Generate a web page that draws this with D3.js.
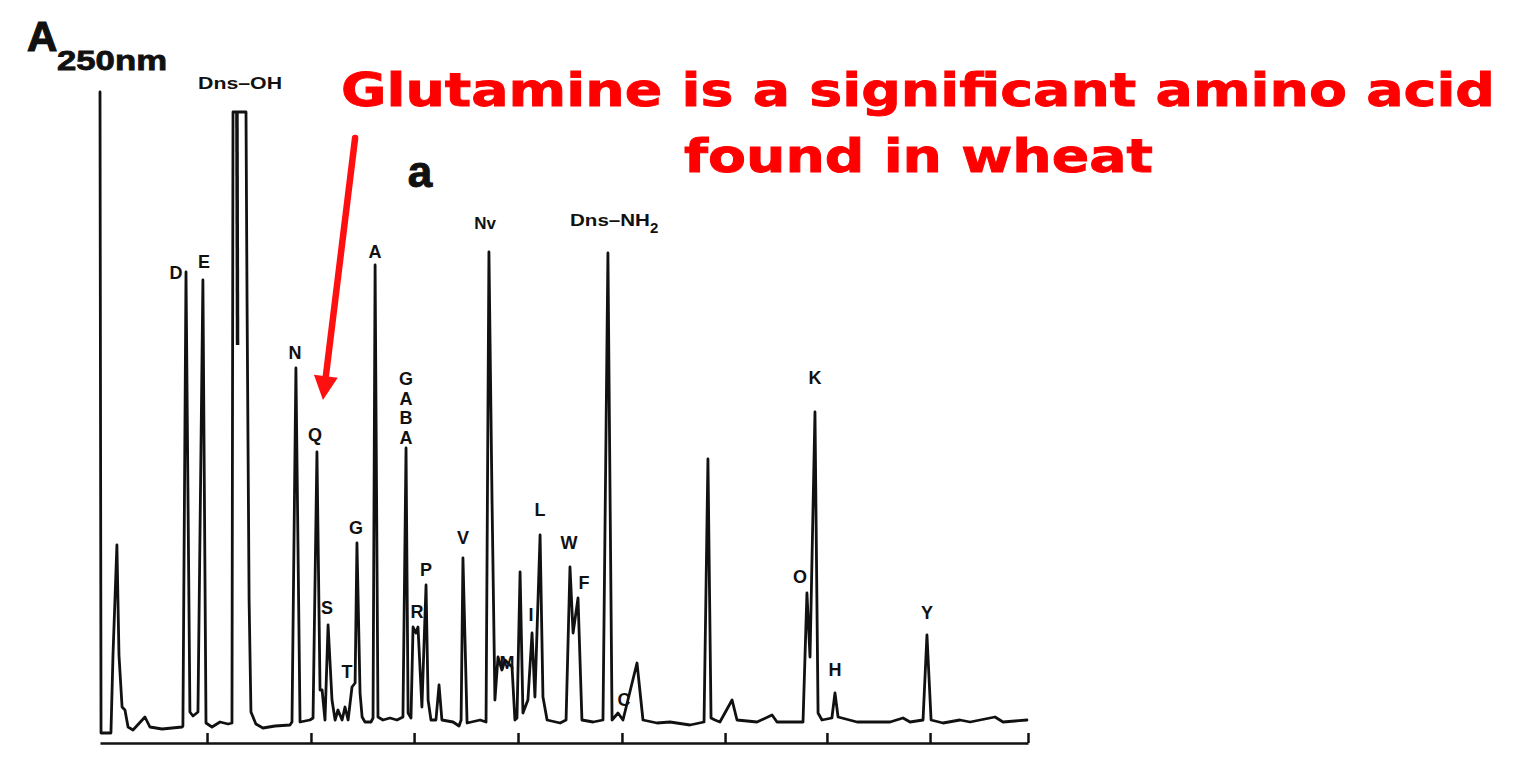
<!DOCTYPE html>
<html>
<head>
<meta charset="utf-8">
<script src="https://cdn.jsdelivr.net/npm/d3@7"></script>
<style>
  html, body { margin: 0; padding: 0; background: #fff; }
  svg { display: block; }
</style>
</head>
<body>
<svg id="chart" width="1520" height="773"></svg>
<script>
// ---- DATA (retention time in min, absorbance in arbitrary units) ----
const traceTime = [0.00,0.05,0.53,0.63,0.82,0.92,1.07,1.21,1.36,1.60,2.18,2.42,3.01,3.98,
  4.02,4.17,4.36,4.51,4.75,4.99,5.14,5.43,5.82,6.21,6.40,
  6.45,7.08,7.13,7.23,7.32,7.56,7.90,8.49,9.21,
  9.31,9.50,9.70,10.18,10.33,10.52,10.67,10.77,10.91,11.06,11.25,11.40,11.54,11.74,11.88,12.03,12.22,12.37,12.46,12.61,12.71,12.85,13.14,
  13.24,13.34,13.48,13.72,14.06,14.40,14.69,14.84,14.94,15.08,
  15.18,15.32,15.42,15.61,15.81,15.91,16.05,16.29,16.44,16.58,17.12,17.41,
  17.51,17.60,17.80,18.43,18.72,
  18.86,19.01,19.15,19.30,19.49,19.64,19.98,20.12,
  20.22,20.37,20.51,20.75,20.95,21.09,21.34,21.48,21.68,22.31,22.60,
  22.79,22.94,23.18,23.37,23.91,24.39,
  24.63,24.83,25.12,25.36,26.04,26.33,27.01,27.64,28.61,29.29,
  29.48,29.63,29.82,30.06,30.65,30.89,31.86,32.59,32.83,34.09,
  34.28,34.43,34.67,34.82,35.01,35.49,35.64,35.79,36.71,38.31,38.94,39.28,39.91,
  40.10,40.30,40.88,41.70,42.19,43.40,43.79,44.95];
const traceAbs = [128.6,0.4,0.4,16.0,38.0,16.0,5.6,5.0,1.6,1.0,3.6,1.6,1.2,1.6,
  1.8,92.6,4.6,3.8,4.6,91.0,2.4,1.6,2.6,2.2,2.4,
  124.6,124.6,87.0,27.0,4.6,2.2,1.4,1.8,2.0,
  2.6,73.4,2.6,3.0,3.4,56.6,9.0,9.0,3.0,22.0,7.0,3.0,5.0,3.0,5.6,3.0,9.6,10.4,38.4,8.4,3.6,2.6,2.6,
  3.4,94.0,3.6,3.0,3.4,3.0,3.6,57.4,4.4,3.4,
  21.6,20.4,21.6,5.6,30.0,7.0,3.0,3.0,10.0,3.0,2.6,1.8,
  3.0,35.4,2.4,3.0,2.6,
  96.6,47.0,7.0,15.6,13.0,15.0,13.6,3.0,
  3.4,32.6,4.4,7.0,20.4,7.6,40.0,7.6,3.0,2.4,3.0,
  33.6,20.4,27.4,3.0,2.6,3.0,
  96.4,3.0,4.4,3.0,14.4,3.0,2.4,2.6,2.0,2.6,
  55.2,3.4,3.0,2.6,7.0,3.0,2.6,4.0,2.6,2.6,
  28.4,15.6,64.6,4.4,3.0,3.4,8.4,3.6,2.6,2.6,3.4,2.6,3.0,
  20.0,3.0,2.4,3.0,2.6,3.6,2.6,3.0];
// overlapping pen stroke inside the off-scale Dns-OH peak
const dnsOhInnerTime = [6.64, 6.67];
const dnsOhInnerAbs = [124.6, 78.0];

// tick positions (unlabelled)
const tickTimes = [5.19,10.23,15.23,20.27,25.31,30.31,35.25,40.25,45.0];

const peakLabels = ["D","E","N","Q","S","T","G","A","R","P","V","M","I","L","W","F","C","O","K","H","Y"];
const labelTime  = [3.69,5.04,9.46,10.43,11.01,11.98,12.41,13.34,15.37,15.81,17.60,19.74,20.90,21.34,22.74,23.47,25.41,33.94,34.67,35.64,40.10];
const labelAbs   = [91.2,93.4,75.2,58.8,24.2,11.4,40.2,95.4,23.4,31.8,38.2,13.2,22.8,43.8,37.2,29.2,5.8,30.4,70.2,11.8,23.2];

const gabaLetters = ["G","A","B","A"];
const gabaTime = 14.84;
const gabaAbs = [70.0,66.0,62.2,58.2];

// arrow annotation (from, to) in data units
const arrowTime = [12.37, 10.81];
const arrowAbs  = [119.4, 67.0];

// ---- CHART ----
const svg = d3.select("#chart");
const x = d3.scaleLinear().domain([0,45]).range([100,1028]);
const y = d3.scaleLinear().domain([0,128]).range([735,95]);

svg.append("rect").attr("width",1520).attr("height",773).attr("fill","#ffffff");

const trace = traceTime.map((t,i)=>[t, traceAbs[i]]);
const line = d3.line().x(d=>x(d[0])).y(d=>y(d[1]));

svg.append("path").datum(trace).attr("d", line)
  .attr("fill","none").attr("stroke","#111").attr("stroke-width",2.8)
  .attr("stroke-linejoin","round").attr("stroke-linecap","round");

svg.append("path").datum(dnsOhInnerTime.map((t,i)=>[t,dnsOhInnerAbs[i]])).attr("d", line)
  .attr("fill","none").attr("stroke","#111").attr("stroke-width",3.5);

// axis with upward ticks
const axis = d3.axisBottom(x).tickValues(tickTimes).tickSize(-10).tickSizeOuter(0).tickFormat("");
const gAxis = svg.append("g").attr("transform","translate(0,743)").call(axis);
gAxis.select(".domain").attr("stroke","#111").attr("stroke-width",2.5);
gAxis.selectAll(".tick line").attr("stroke","#111").attr("stroke-width",2.5);

// peak labels
const lf = "'Liberation Sans', Arial, sans-serif";
svg.append("g").selectAll("text").data(peakLabels).join("text")
  .attr("x",(d,i)=>x(labelTime[i])).attr("y",(d,i)=>y(labelAbs[i]))
  .attr("text-anchor","middle").attr("font-family",lf).attr("font-weight","bold")
  .attr("font-size",18).attr("fill","#111").text(d=>d);

svg.append("g").selectAll("text").data(gabaLetters).join("text")
  .attr("x",x(gabaTime)).attr("y",(d,i)=>y(gabaAbs[i]))
  .attr("text-anchor","middle").attr("font-family",lf).attr("font-weight","bold")
  .attr("font-size",18).attr("fill","#111").text(d=>d);

// Dns-OH
svg.append("text").attr("x",x(6.79)).attr("y",y(129.2)).attr("text-anchor","middle")
  .attr("font-family",lf).attr("font-weight","bold").attr("font-size",17).attr("fill","#111")
  .attr("textLength",84).attr("lengthAdjust","spacingAndGlyphs").text("Dns\u2013OH");
// Nv
svg.append("text").attr("x",x(18.67)).attr("y",y(101.2)).attr("text-anchor","middle")
  .attr("font-family",lf).attr("font-weight","bold").attr("font-size",17).attr("fill","#111")
  .text("Nv");
// Dns-NH2
const nh = svg.append("text").attr("x",x(22.79)).attr("y",y(101.8))
  .attr("font-family",lf).attr("font-weight","bold").attr("font-size",17).attr("fill","#111");
nh.append("tspan").text("Dns\u2013NH").attr("textLength",80).attr("lengthAdjust","spacingAndGlyphs");
nh.append("tspan").attr("dy",7).attr("font-size",15).text("2");

// y-axis title A250nm
svg.append("text").attr("x",27).attr("y",51)
  .attr("font-family",lf).attr("font-weight","bold").attr("fill","#111")
  .attr("stroke","#111").attr("stroke-width",1.2).attr("font-size",42).text("A");
svg.append("text").attr("x",57).attr("y",70).attr("font-family",lf).attr("font-weight","bold")
  .attr("stroke","#111").attr("stroke-width",0.8)
  .attr("font-size",28).attr("fill","#111").attr("textLength",110).attr("lengthAdjust","spacingAndGlyphs")
  .text("250nm");

// panel letter
svg.append("text").attr("x",420).attr("y",187).attr("text-anchor","middle")
  .attr("font-family",lf).attr("font-weight","bold").attr("stroke","#111").attr("stroke-width",1)
  .attr("font-size",44).attr("fill","#111").text("a");

// red title
const tf = "'DejaVu Sans', Verdana, sans-serif";
svg.append("text").attr("x",341).attr("y",106).attr("font-family",tf).attr("font-weight","bold")
  .attr("font-size",47).attr("fill","#ff0000").attr("stroke","#ff0000").attr("stroke-width",0.9)
  .attr("textLength",1154).attr("lengthAdjust","spacingAndGlyphs")
  .text("Glutamine is a significant amino acid");
svg.append("text").attr("x",684).attr("y",172).attr("font-family",tf).attr("font-weight","bold")
  .attr("font-size",47).attr("fill","#ff0000").attr("stroke","#ff0000").attr("stroke-width",0.9)
  .attr("textLength",469).attr("lengthAdjust","spacingAndGlyphs")
  .text("found in wheat");

// red arrow
const ax0 = x(arrowTime[0]), ay0 = y(arrowAbs[0]), ax1 = x(arrowTime[1]), ay1 = y(arrowAbs[1]);
const dx = ax1-ax0, dy = ay1-ay0, len = Math.hypot(dx,dy), ux = dx/len, uy = dy/len;
const headL = 24, headW = 12;
const bx = ax1 - ux*headL, by = ay1 - uy*headL;
svg.append("line").attr("x1",ax0).attr("y1",ay0).attr("x2",bx+ux*2).attr("y2",by+uy*2)
  .attr("stroke","#ff1010").attr("stroke-width",6.5).attr("stroke-linecap","round");
svg.append("path").attr("d",`M${ax1},${ay1}L${bx - uy*headW},${by + ux*headW}L${bx + uy*headW},${by - ux*headW}Z`)
  .attr("fill","#ff1010");
</script>
</body>
</html>
